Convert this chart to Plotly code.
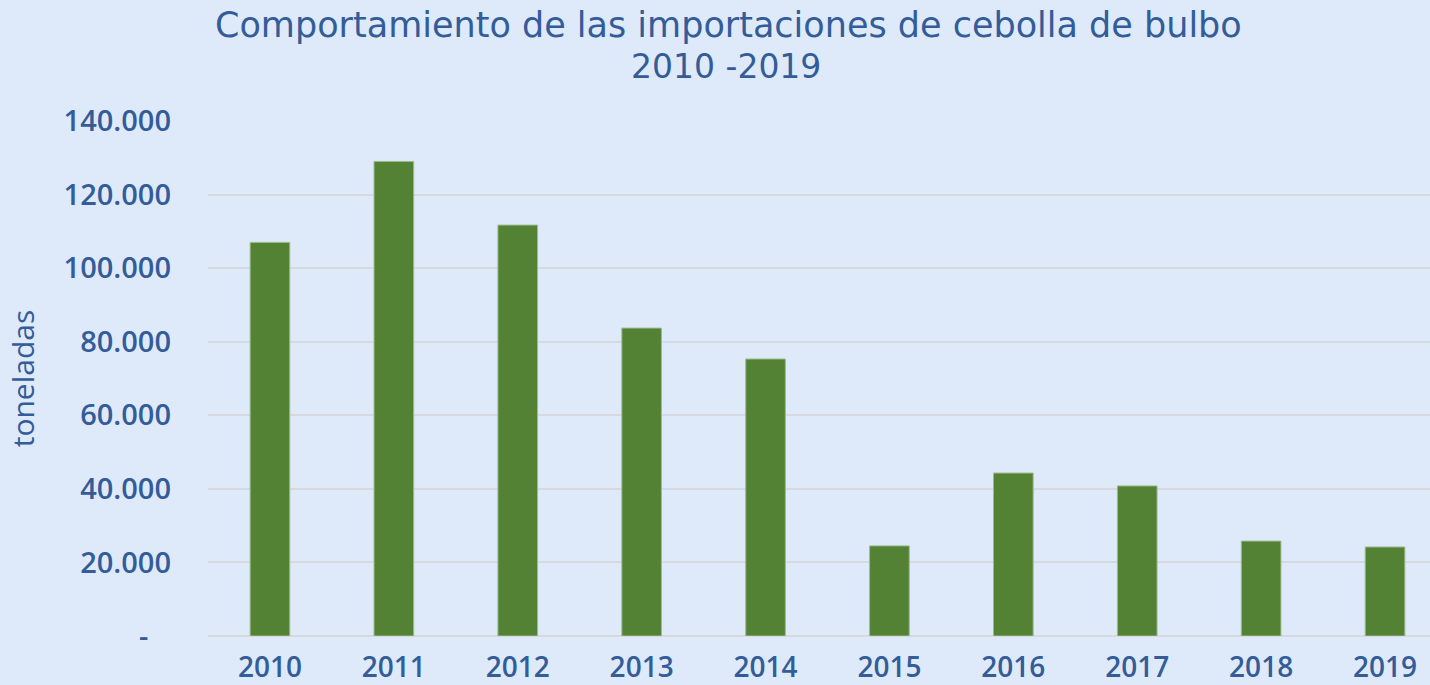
import plotly.graph_objects as go

years = ["2010", "2011", "2012", "2013", "2014", "2015", "2016", "2017", "2018", "2019"]
toneladas = [107000, 129000, 111700, 83700, 75300, 24500, 44300, 40800, 25800, 24200]

y_tickvals = [0, 20000, 40000, 60000, 80000, 100000, 120000, 140000]
y_ticktext = ["-\u00a0\u00a0\u00a0", "20.000", "40.000", "60.000", "80.000", "100.000", "120.000", "140.000"]

title_line1 = "Comportamiento de las importaciones de cebolla de bulbo"
title_line2 = "2010 -2019"

text_color = "#335C99"
bg = "#DEEAFA"
grid = "#D6DAE0"

fig = go.Figure()
fig.add_trace(go.Bar(
    x=years,
    y=toneladas,
    marker=dict(color="#548235", line=dict(color="#9DBB8A", width=1)),
    width=0.32,
))

fig.add_annotation(text=title_line1, xref="paper", yref="paper",
                   x=(728 - 208) / 1222, y=(636 - 25) / 515,
                   xanchor="center", yanchor="middle", showarrow=False,
                   font=dict(family="DejaVu Sans", size=35, color=text_color))
fig.add_annotation(text=title_line2, xref="paper", yref="paper",
                   x=(726 - 208) / 1222, y=(636 - 66) / 515,
                   xanchor="center", yanchor="middle", showarrow=False,
                   font=dict(family="DejaVu Sans", size=33, color=text_color))

fig.update_layout(
    width=1430,
    height=685,
    paper_bgcolor=bg,
    plot_bgcolor=bg,
    margin=dict(l=208, r=0, t=121, b=49),
    showlegend=False,
    xaxis=dict(
        type="category",
        range=[-0.5, 9.363],
        showgrid=False,
        showline=False,
        zeroline=False,
        ticks="",
        ticklabelstandoff=12,
        tickfont=dict(family="Open Sans", size=28, color=text_color, weight=600),
    ),
    yaxis=dict(
        range=[0, 140000],
        tickvals=y_tickvals,
        ticktext=y_ticktext,
        showgrid=True,
        gridcolor=grid,
        gridwidth=1.5,
        zeroline=True,
        zerolinecolor=grid,
        zerolinewidth=1.5,
        showline=False,
        ticks="",
        ticklabelstandoff=36,
        tickfont=dict(family="Open Sans", size=29, color=text_color, weight=600),
        title=dict(
            text="toneladas",
            standoff=20,
            font=dict(family="Open Sans", size=30, color=text_color, weight=500),
        ),
    ),
)

fig.write_html("out.html")
